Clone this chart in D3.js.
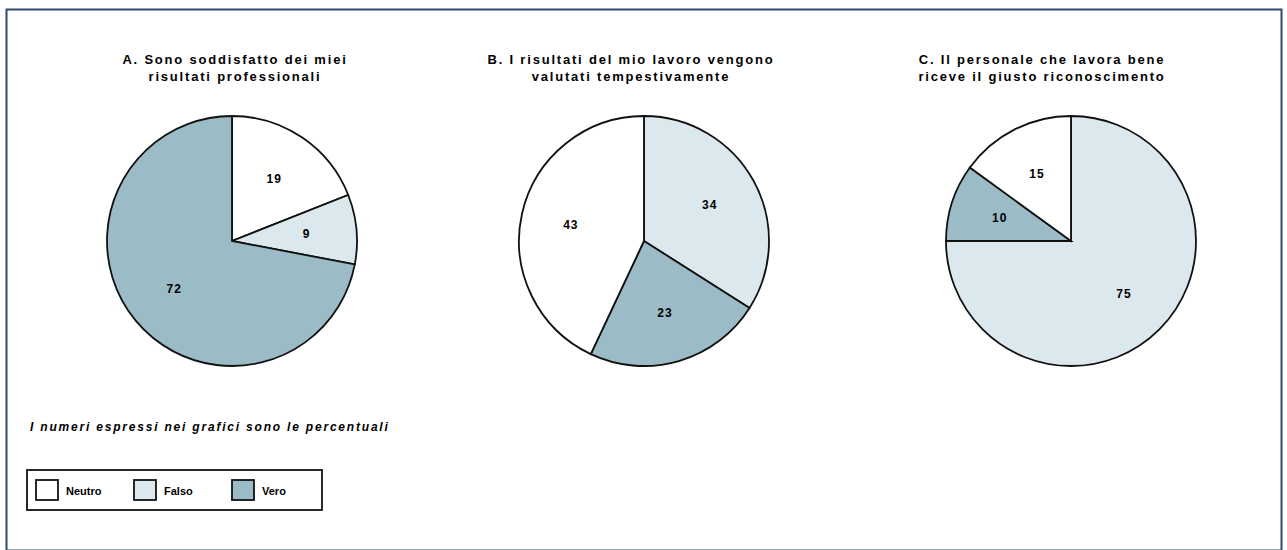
<!DOCTYPE html>
<html>
<head>
<meta charset="utf-8">
<script src="https://cdn.jsdelivr.net/npm/d3@7"></script>
<style>
  body { margin: 0; background: #fff; }
  svg text { font-family: "Liberation Sans", Arial, sans-serif; fill: #000; }
</style>
</head>
<body>
<svg width="1287" height="550"></svg>
<script>
  // answer categories, in the order they go round every pie
  const categories = ['Neutro', 'Falso', 'Vero'];

  // percentages per question, indexed like categories
  const valuesA = [19, 9, 72];
  const valuesB = [43, 34, 23];
  const valuesC = [15, 75, 10];

  // category that opens each pie at twelve o'clock
  const leadA = 'Neutro';
  const leadB = 'Falso';
  const leadC = 'Falso';

  const titlesA = ['A. Sono soddisfatto dei miei', 'risultati professionali'];
  const titlesB = ['B. I risultati del mio lavoro vengono', 'valutati tempestivamente'];
  const titlesC = ['C. Il personale che lavora bene', 'riceve il giusto riconoscimento'];

  const footnote = 'I numeri espressi nei grafici sono le percentuali';

  const svg = d3.select('svg');
  const width = +svg.attr('width');
  const height = +svg.attr('height');

  const color = d3.scaleOrdinal()
      .domain(categories)
      .range(['#ffffff', '#dbe8ee', '#9bbcc6']);

  // frame round the whole panel
  svg.append('rect')
      .attr('x', 6.5).attr('y', 9.5)
      .attr('width', width - 12).attr('height', height - 9)
      .attr('fill', 'none')
      .attr('stroke', '#2c4a6a')
      .attr('stroke-width', 2);

  const radius = 125;
  const charts = [
    { values: valuesA, lead: leadA, title: titlesA, cx: 232, tx: 235 },
    { values: valuesB, lead: leadB, title: titlesB, cx: 644, tx: 631 },
    { values: valuesC, lead: leadC, title: titlesC, cx: 1071, tx: 1042 }
  ];
  const cy = 241;

  const arc = d3.arc().innerRadius(0).outerRadius(radius);
  const labelArc = d3.arc().innerRadius(radius * 0.6).outerRadius(radius * 0.6);

  charts.forEach(chart => {
    const start = categories.indexOf(chart.lead);
    const order = categories.map((c, i) => categories[(start + i) % categories.length]);
    const slices = order.map(c => ({ cat: c, value: chart.values[categories.indexOf(c)] }));

    const pie = d3.pie().sort(null).value(d => d.value);

    const g = svg.append('g')
        .attr('transform', `translate(${chart.cx},${cy})`);

    g.selectAll('path')
      .data(pie(slices))
      .enter().append('path')
        .attr('d', arc)
        .attr('fill', d => color(d.data.cat))
        .attr('stroke', '#111')
        .attr('stroke-width', 1.8)
        .attr('stroke-linejoin', 'miter');

    g.selectAll('text.lbl')
      .data(pie(slices))
      .enter().append('text')
        .attr('class', 'lbl')
        .attr('transform', d => `translate(${labelArc.centroid(d)})`)
        .attr('text-anchor', 'middle')
        .attr('dy', '0.35em')
        .style('font-size', '12px')
        .style('font-weight', 'bold')
        .style('letter-spacing', '1px')
        .text(d => d.data.value);

    svg.append('text')
        .attr('x', chart.tx)
        .attr('y', 64)
        .attr('text-anchor', 'middle')
        .style('font-size', '13px')
        .style('font-weight', 'bold')
        .style('letter-spacing', '1.8px')
      .selectAll('tspan')
      .data(chart.title)
      .enter().append('tspan')
        .attr('x', chart.tx)
        .attr('dy', (d, i) => (i === 0 ? 0 : 17))
        .text(d => d);
  });

  svg.append('text')
      .attr('x', 30)
      .attr('y', 431)
      .style('font-size', '12px')
      .style('font-weight', 'bold')
      .style('font-style', 'italic')
      .style('letter-spacing', '1.8px')
      .text(footnote);

  // legend
  const legend = svg.append('g')
      .attr('transform', 'translate(27,470)');
  legend.append('rect')
      .attr('width', 295).attr('height', 40)
      .attr('fill', '#fff')
      .attr('stroke', '#111')
      .attr('stroke-width', 1.8);

  const item = legend.selectAll('g.item')
    .data(categories)
    .enter().append('g')
      .attr('class', 'item')
      .attr('transform', (d, i) => `translate(${9 + i * 98},10)`);
  item.append('rect')
      .attr('width', 22).attr('height', 20)
      .attr('fill', d => color(d))
      .attr('stroke', '#111')
      .attr('stroke-width', 1.8);
  item.append('text')
      .attr('x', 30).attr('y', 15)
      .style('font-size', '11px')
      .style('font-weight', 'bold')
      .text(d => d);
</script>
</body>
</html>
